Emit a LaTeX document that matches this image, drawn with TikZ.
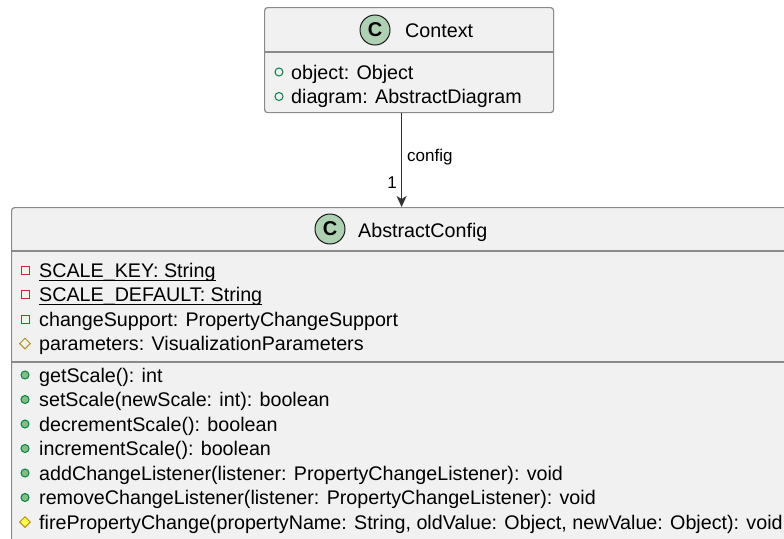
\documentclass[tikz,border=0pt]{standalone}
\usepackage{fontspec}
\setmainfont{Liberation Sans}
\usetikzlibrary{shapes.geometric,arrows.meta}

\definecolor{boxfill}{HTML}{F1F1F1}
\definecolor{boxline}{HTML}{8A8A8A}
\definecolor{spotfill}{HTML}{ADD1B2}
\definecolor{pubgreen}{HTML}{038048}
\definecolor{pubfill}{HTML}{84BE84}
\definecolor{privred}{HTML}{C82930}
\definecolor{protbrown}{HTML}{B38D22}
\definecolor{protfill}{HTML}{FFFF44}

\begin{document}
\begin{tikzpicture}[x=1pt,y=-1pt,
  font=\fontsize{19.7}{24}\selectfont,
  classbox/.style={draw=boxline,fill=boxfill,line width=1.2pt,rounded corners=3pt,
    anchor=north west,inner sep=0},
  divider/.style={draw=boxline,line width=1.2pt},
  spot/.style={circle,draw=black!90,fill=spotfill,line width=1pt,minimum size=30pt,
    inner sep=0,font=\fontsize{20}{24}\selectfont\bfseries},
  row/.style={anchor=base west,inner sep=0},
  pubfield/.style={circle,draw=pubgreen,line width=1pt,minimum size=8pt,inner sep=0},
  pubmethod/.style={pubfield,fill=pubfill},
  privfield/.style={rectangle,draw=privred,line width=1pt,minimum size=8pt,inner sep=0},
  protfield/.style={diamond,draw=protbrown,line width=1pt,minimum size=11pt,inner sep=0},
  protmethod/.style={protfield,fill=protfill},
  lbl/.style={inner sep=0,font=\fontsize{17}{20}\selectfont}]

  \clip (0,0) rectangle (784,538);
  \fill[white] (0,0) rectangle (784,538);

  % Context
  \node[classbox,minimum width=289pt,minimum height=105pt] (context) at (264,7) {};
  \draw[divider] (context.west |- 0,52) -- (context.east |- 0,52);
  \node[spot] (ctxspot) at (375,30) {C};
  \node[row] (ctxname) at (405,37) {Context};
  \node[pubfield] (ctxicon0) at (279,72) {};
  \node[row] (ctxattr0) at (291,79) {object: Object};
  \node[pubfield] (ctxicon1) at (279,96.5) {};
  \node[row] (ctxattr1) at (291,103.5) {diagram: AbstractDiagram};

  % AbstractConfig
  \node[classbox,minimum width=780pt,minimum height=400pt] (abstractconfig) at (11,207) {};
  \draw[divider] (abstractconfig.west |- 0,251) -- (abstractconfig.east |- 0,251);
  \draw[divider] (abstractconfig.west |- 0,362) -- (abstractconfig.east |- 0,362);
  \node[spot] (acspot) at (330,229) {C};
  \node[row] (acname) at (358,237) {AbstractConfig};

  \node[privfield] (acicon0) at (25,270) {};
  \node[row] (acattr0) at (39,277) {SCALE\_KEY: String};
  \draw[line width=1pt] ([yshift=-3pt]acattr0.base west) -- ([yshift=-3pt]acattr0.base east);
  \node[privfield] (acicon1) at (25,294.5) {};
  \node[row] (acattr1) at (39,301.5) {SCALE\_DEFAULT: String};
  \draw[line width=1pt] ([yshift=-3pt]acattr1.base west) -- ([yshift=-3pt]acattr1.base east);
  \node[privfield] (acicon2) at (25,319) {};
  \node[row] (acattr2) at (39,326) {changeSupport: PropertyChangeSupport};
  \node[protfield] (acicon3) at (25,343.5) {};
  \node[row] (acattr3) at (39,350.5) {parameters: VisualizationParameters};

  \foreach \ico/\txt [count=\k from 0] in {
      pubmethod/{getScale(): int},
      pubmethod/{setScale(newScale: int): boolean},
      pubmethod/{decrementScale(): boolean},
      pubmethod/{incrementScale(): boolean},
      pubmethod/{addChangeListener(listener: PropertyChangeListener): void},
      pubmethod/{removeChangeListener(listener: PropertyChangeListener): void},
      protmethod/{firePropertyChange(propertyName: String, oldValue: Object, newValue: Object): void}} {
    \node[\ico] (acmicon\k) at (25,375+24.5*\k) {};
    \node[row] (acmethod\k) at (39,382+24.5*\k) {\txt};
  }

  % association
  \draw[-{Stealth[length=11pt,width=10pt,inset=3pt]},line width=1.2pt,black!80]
    (context.south -| abstractconfig.north) -- (abstractconfig.north);
  \node[lbl,anchor=base west] (cfglbl) at (407,161) {config};
  \node[lbl,anchor=base east] (cfgmult) at (397,188) {1};
\end{tikzpicture}
\end{document}
